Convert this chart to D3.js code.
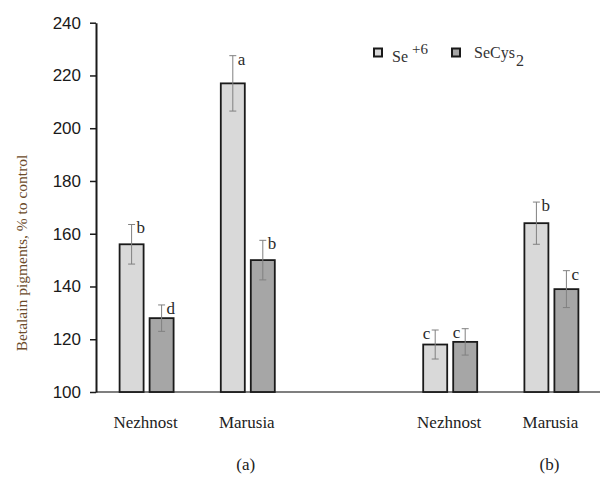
<!DOCTYPE html>
<html>
<head>
<meta charset="utf-8">
<script src="https://cdn.jsdelivr.net/npm/d3@7"></script>
<style>
  body { margin: 0; background: #fff; }
  svg { display: block; }
</style>
</head>
<body>
<div id="chart"></div>
<script>
// data
var slots = ["aNez", "aMar", "gap", "bNez", "bMar"];
var slotLabels = ["Nezhnost", "Marusia", "", "Nezhnost", "Marusia"];
var series = ["Se+6", "SeCys2"];
var seValues = [156, 217, null, 118, 164];
var seErrors = [7.5, 10.5, null, 5.5, 8];
var seLetters = ["b", "a", null, "c", "b"];
var cysValues = [128, 150, null, 119, 139];
var cysErrors = [5, 7.5, null, 5, 7];
var cysLetters = ["d", "b", null, "c", "c"];
var yTicks = [100, 120, 140, 160, 180, 200, 220, 240];
var panelLabels = [{ label: "(a)", at: "aMar" }, { label: "(b)", at: "bMar" }];

var width = 601, height = 481;
var colors = { "Se+6": "#d9d9d9", "SeCys2": "#a6a6a6" };
var serif = "'Liberation Serif', 'Times New Roman', serif";

var svg = d3.select("#chart").append("svg")
  .attr("width", width)
  .attr("height", height);

var x = d3.scaleBand()
  .domain(slots)
  .range([96, 602]);

var y = d3.scaleLinear()
  .domain([100, 240])
  .range([392, 22.7]);

var barW = 24, barGap = 6;

// flatten to bar records
var bars = [];
slots.forEach(function(s, i) {
  if (seValues[i] == null) return;
  bars.push({ slot: s, series: "Se+6", value: seValues[i], err: seErrors[i], letter: seLetters[i], k: 0, i: i });
  bars.push({ slot: s, series: "SeCys2", value: cysValues[i], err: cysErrors[i], letter: cysLetters[i], k: 1, i: i });
});

function barX(d) {
  var c = x(d.slot) + x.bandwidth() / 2;
  return d.k === 0 ? c - barGap / 2 - barW : c + barGap / 2;
}

// x baseline
svg.append("line")
  .attr("x1", 96).attr("x2", 600)
  .attr("y1", y(100)).attr("y2", y(100))
  .attr("stroke", "#555").attr("stroke-width", 1.5);

// bars
svg.selectAll(".bar")
  .data(bars)
  .enter()
  .append("rect")
  .attr("class", "bar")
  .attr("x", barX)
  .attr("y", function(d) { return y(d.value); })
  .attr("width", barW)
  .attr("height", function(d) { return y(100) - y(d.value); })
  .attr("fill", function(d) { return colors[d.series]; })
  .attr("stroke", "#1a1a1a")
  .attr("stroke-width", 1.8);

// error bars
var eb = svg.selectAll(".err")
  .data(bars)
  .enter()
  .append("g")
  .attr("class", "err")
  .attr("stroke", "#808080")
  .attr("stroke-width", 1);

eb.append("line")
  .attr("x1", function(d) { return barX(d) + barW / 2; })
  .attr("x2", function(d) { return barX(d) + barW / 2; })
  .attr("y1", function(d) { return y(d.value + d.err); })
  .attr("y2", function(d) { return y(d.value - d.err); });

eb.selectAll(".cap")
  .data(function(d) { return [d.value + d.err, d.value - d.err].map(function(v) { return { v: v, b: d }; }); })
  .enter()
  .append("line")
  .attr("x1", function(c) { return barX(c.b) + barW / 2 - 3.5; })
  .attr("x2", function(c) { return barX(c.b) + barW / 2 + 3.5; })
  .attr("y1", function(c) { return y(c.v); })
  .attr("y2", function(c) { return y(c.v); });

// significance letters
svg.selectAll(".letter")
  .data(bars)
  .enter()
  .append("text")
  .attr("class", "letter")
  .attr("x", function(d) {
    var cx = barX(d) + barW / 2;
    return d.i === 3 ? cx - 5 : cx + 5;
  })
  .attr("y", function(d) { return y(d.value + d.err) + 9; })
  .attr("text-anchor", function(d) { return d.i === 3 ? "end" : "start"; })
  .style("font-family", serif)
  .style("font-size", "17px")
  .attr("fill", "#2a2a2a")
  .text(function(d) { return d.letter; });

// y axis
var yAxis = d3.axisLeft(y)
  .tickValues(yTicks)
  .tickSize(6)
  .tickSizeOuter(0)
  .tickPadding(9);

var gy = svg.append("g")
  .attr("transform", "translate(96,0)")
  .call(yAxis);
gy.select(".domain").attr("stroke", "#1a1a1a").attr("stroke-width", 2);
gy.selectAll(".tick line").attr("stroke", "#1a1a1a").attr("stroke-width", 1.5);
gy.selectAll(".tick text")
  .style("font-family", "'Liberation Sans', Arial, sans-serif")
  .style("font-size", "17px")
  .attr("fill", "#1a1a1a");

// category labels
svg.selectAll(".cat")
  .data(slots.filter(function(s, i) { return slotLabels[i]; }))
  .enter()
  .append("text")
  .attr("class", "cat")
  .attr("x", function(s) { return x(s) + x.bandwidth() / 2 - 1; })
  .attr("y", 428)
  .attr("text-anchor", "middle")
  .style("font-family", serif)
  .style("font-size", "17px")
  .attr("fill", "#222")
  .text(function(s) { return slotLabels[slots.indexOf(s)]; });

// panel labels
svg.selectAll(".panel")
  .data(panelLabels)
  .enter()
  .append("text")
  .attr("class", "panel")
  .attr("x", function(p) { return x(p.at) + x.bandwidth() / 2 - 2; })
  .attr("y", 470)
  .attr("text-anchor", "middle")
  .style("font-family", serif)
  .style("font-size", "17px")
  .attr("fill", "#222")
  .text(function(p) { return p.label; });

// y axis title
svg.append("text")
  .attr("transform", "translate(27,253) rotate(-90)")
  .attr("text-anchor", "middle")
  .style("font-family", serif)
  .style("font-size", "15.5px")
  .attr("fill", "#6b4a2a")
  .text("Betalain pigments, % to control");

// legend
var lg = svg.append("g");
lg.append("rect").attr("x", 374).attr("y", 48.5).attr("width", 8).attr("height", 8)
  .attr("fill", colors["Se+6"]).attr("stroke", "#1a1a1a").attr("stroke-width", 2);
var t1 = lg.append("text").attr("x", 392).attr("y", 62)
  .style("font-family", serif).style("font-size", "16px").attr("fill", "#333");
t1.append("tspan").text("Se");
t1.append("tspan").attr("dx", 4).attr("dy", -8).style("font-size", "15px").text("+6");

lg.append("rect").attr("x", 452).attr("y", 48.5).attr("width", 8).attr("height", 8)
  .attr("fill", colors["SeCys2"]).attr("stroke", "#1a1a1a").attr("stroke-width", 2);
var t2 = lg.append("text").attr("x", 474).attr("y", 58)
  .style("font-family", serif).style("font-size", "16px").attr("fill", "#333");
t2.append("tspan").text("SeCys");
t2.append("tspan").attr("dx", 1).attr("dy", 8).style("font-size", "16px").text("2");
</script>
</body>
</html>
